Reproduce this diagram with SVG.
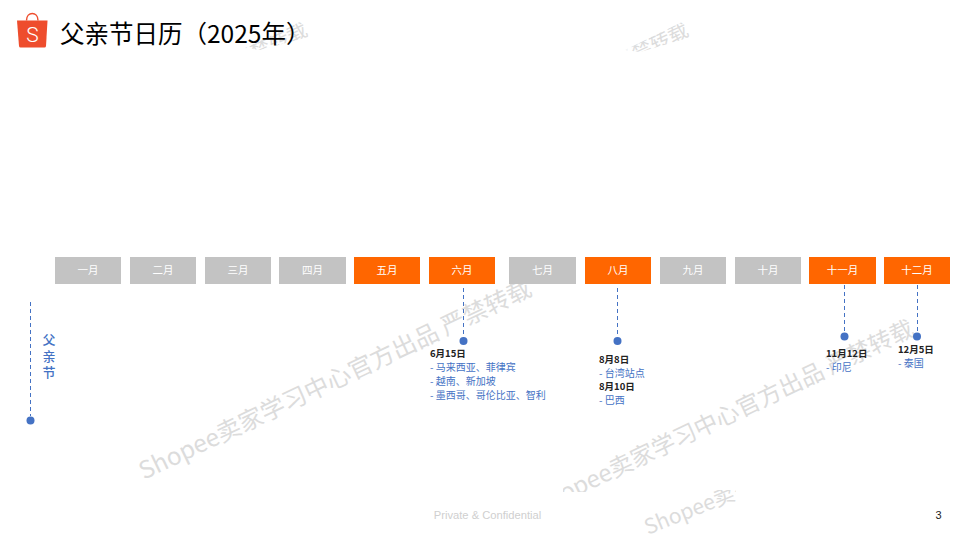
<svg xmlns="http://www.w3.org/2000/svg" width="960" height="540" viewBox="0 0 960 540">
<style>
text{font-family:"Noto Sans CJK SC","Liberation Sans",sans-serif}
.wm{font-size:24.300px;fill:#dcdcdc}
.m{font-size:10.500px;fill:#fff;text-anchor:middle}
.g{fill:#c3c3c3}
.o{fill:#ff6600}
.d{font-size:9.500px;font-weight:700;fill:#222}
.b{font-size:10px;fill:#4472c4}
.l{stroke:#4472c4;stroke-width:1;stroke-dasharray:4 3;fill:none}
.dot{fill:#4472c4}
</style>
<defs>
<clipPath id="c2"><rect x="630" y="490" width="106" height="50"/></clipPath>
<clipPath id="c3"><polygon points="245,48 308,18 312,36 260,50"/></clipPath>
<clipPath id="c4"><polygon points="625,50 690,18 695,36 640,52"/></clipPath>
<clipPath id="c5"><rect x="563" y="280" width="397" height="212"/></clipPath>
</defs>
<rect width="960" height="540" fill="#fff"/>
<g id="watermarks">
<text class="wm" transform="translate(144 480) rotate(-25.500)">Shopee卖家学习中心官方出品 严禁转载</text>
<g clip-path="url(#c5)"><text class="wm" style="font-size:23.500px" transform="translate(539 514) rotate(-25.500)">Shopee卖家学习中心官方出品 严禁转载</text></g>
<g clip-path="url(#c2)"><text class="wm" style="font-size:21px" transform="translate(648 535) rotate(-22)">Shopee卖家学习中心</text></g>
<g clip-path="url(#c3)"><text class="wm" style="font-size:20px;text-anchor:end" transform="translate(309 35) rotate(-25)">严禁转载</text></g>
<g clip-path="url(#c4)"><text class="wm" style="font-size:20px;text-anchor:end" transform="translate(690 35) rotate(-25)">严禁转载</text></g>
</g>
<g id="logo">
<path d="M17 20.500H47.500L46 46Q45.800 47.500 44.500 47.500H20.500Q19.200 47.500 19 46Z" fill="#ee4d2d"/>
<path d="M26.500 20.500C26.500 11 38 11 38 20.500" fill="none" stroke="#ee4d2d" stroke-width="1.500"/>
<text x="32.500" y="42" text-anchor="middle" style="font-family:Roboto,sans-serif;font-weight:300;font-size:21px;fill:#fff">S</text>
</g>
<text id="title" x="60" y="43" style="font-size:24.500px;fill:#000">父亲节日历（2025年）</text>
<g id="months">
<g id="m1"><rect class="g" x="55" y="257" width="66" height="27"/><text class="m" x="88" y="274">一月</text></g>
<g id="m2"><rect class="g" x="130" y="257" width="66" height="27"/><text class="m" x="163" y="274">二月</text></g>
<g id="m3"><rect class="g" x="205" y="257" width="66" height="27"/><text class="m" x="238" y="274">三月</text></g>
<g id="m4"><rect class="g" x="279" y="257" width="67" height="27"/><text class="m" x="312.500" y="274">四月</text></g>
<g id="m5"><rect class="o" x="354" y="257" width="66" height="27"/><text class="m" x="387" y="274">五月</text></g>
<g id="m6"><rect class="o" x="429" y="257" width="66" height="27"/><text class="m" x="462" y="274">六月</text></g>
<g id="m7"><rect class="g" x="509" y="257" width="67" height="27"/><text class="m" x="542.500" y="274">七月</text></g>
<g id="m8"><rect class="o" x="585" y="257" width="66" height="27"/><text class="m" x="618" y="274">八月</text></g>
<g id="m9"><rect class="g" x="660" y="257" width="66" height="27"/><text class="m" x="693" y="274">九月</text></g>
<g id="m10"><rect class="g" x="735" y="257" width="66" height="27"/><text class="m" x="768" y="274">十月</text></g>
<g id="m11"><rect class="o" x="809" y="257" width="67" height="27"/><text class="m" x="842.500" y="274">十一月</text></g>
<g id="m12"><rect class="o" x="884" y="257" width="66" height="27"/><text class="m" x="917" y="274">十二月</text></g>
</g>
<g id="connectors">
<path class="l" d="M30.500 302V416"/>
<path class="l" d="M463.500 288V337"/>
<path class="l" d="M617.500 288V337"/>
<path class="l" d="M844.500 285V332"/>
<path class="l" d="M917.500 285V332"/>
</g>
<g id="dots">
<circle class="dot" cx="30.500" cy="420.500" r="4"/>
<circle class="dot" cx="463.500" cy="341" r="4"/>
<circle class="dot" cx="617.500" cy="341" r="4"/>
<circle class="dot" cx="844.500" cy="336.500" r="4"/>
<circle class="dot" cx="917" cy="336.500" r="4"/>
</g>
<text id="label-father" x="49" y="333" style="writing-mode:vertical-rl;font-size:13px;letter-spacing:3.300px;fill:#4472c4;font-weight:500">父亲节</text>
<g id="note-jun">
<text class="d" x="430" y="357">6月15日</text>
<text class="b" x="430" y="371">- 马来西亚、菲律宾</text>
<text class="b" x="430" y="385">- 越南、新加坡</text>
<text class="b" x="430" y="398.500">- 墨西哥、哥伦比亚、智利</text>
</g>
<g id="note-aug">
<text class="d" x="599" y="363">8月8日</text>
<text class="b" x="599" y="376.500">- 台湾站点</text>
<text class="d" x="599" y="390">8月10日</text>
<text class="b" x="599" y="404">- 巴西</text>
</g>
<g id="note-nov">
<text class="d" x="826" y="357">11月12日</text>
<text class="b" x="826" y="371">- 印尼</text>
</g>
<g id="note-dec">
<text class="d" x="898" y="353">12月5日</text>
<text class="b" x="898" y="367">- 泰国</text>
</g>
<text id="footer" x="487.500" y="518.500" text-anchor="middle" style="font-family:'Liberation Sans',sans-serif;font-size:11.200px;fill:#cfcfcf">Private &amp; Confidential</text>
<text id="page" x="938.500" y="518.500" text-anchor="middle" style="font-family:'Liberation Sans',sans-serif;font-size:11px;fill:#222">3</text>
</svg>
